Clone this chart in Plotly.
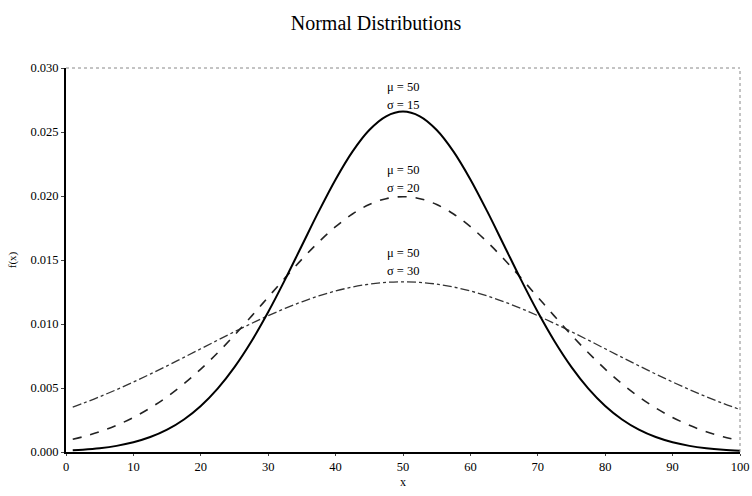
import plotly.graph_objects as go

x_vals = [1, 2.5, 5, 7.5, 10, 12.5, 15, 17.5, 20, 22.5, 25, 27.5, 30, 32.5, 35, 37.5, 40, 42.5, 45, 47.5,
          50, 52.5, 55, 57.5, 60, 62.5, 65, 67.5, 70, 72.5, 75, 77.5, 80, 82.5, 85, 87.5, 90, 92.5, 95, 97.5, 100]
f_sigma15 = [0.000128, 0.000177, 0.000295, 0.000480, 0.000760, 0.001169, 0.001748, 0.002543, 0.003599, 0.004954,
             0.006632, 0.008634, 0.010934, 0.013466, 0.016131, 0.018795, 0.021297, 0.023471, 0.025159, 0.026229,
             0.026596, 0.026229, 0.025159, 0.023471, 0.021297, 0.018795, 0.016131, 0.013466, 0.010934, 0.008634,
             0.006632, 0.004954, 0.003599, 0.002543, 0.001748, 0.001169, 0.000760, 0.000480, 0.000295, 0.000177,
             0.000103]
f_sigma20 = [0.000992, 0.001189, 0.001587, 0.002086, 0.002700, 0.003439, 0.004314, 0.005327, 0.006476, 0.007751,
             0.009132, 0.010594, 0.012099, 0.013602, 0.015057, 0.016408, 0.017603, 0.018593, 0.019333, 0.019792,
             0.019947, 0.019792, 0.019333, 0.018593, 0.017603, 0.016408, 0.015057, 0.013602, 0.012099, 0.010594,
             0.009132, 0.007751, 0.006476, 0.005327, 0.004314, 0.003439, 0.002700, 0.002086, 0.001587, 0.001189,
             0.000876]
f_sigma30 = [0.003503, 0.003797, 0.004317, 0.004875, 0.005467, 0.006088, 0.006733, 0.007395, 0.008066, 0.008737,
             0.009398, 0.010038, 0.010648, 0.011218, 0.011735, 0.012192, 0.012579, 0.012889, 0.013115, 0.013252,
             0.013298, 0.013252, 0.013115, 0.012889, 0.012579, 0.012192, 0.011735, 0.011218, 0.010648, 0.010038,
             0.009398, 0.008737, 0.008066, 0.007395, 0.006733, 0.006088, 0.005467, 0.004875, 0.004317, 0.003797,
             0.003316]
x_ticks = [0, 10, 20, 30, 40, 50, 60, 70, 80, 90, 100]
y_ticks = [0.000, 0.005, 0.010, 0.015, 0.020, 0.025, 0.030]
labels = [("μ\u00a0=\u00a050", "σ\u00a0=\u00a015", 0.02852, 0.02711),
          ("μ\u00a0=\u00a050", "σ\u00a0=\u00a020", 0.02203, 0.02062),
          ("μ\u00a0=\u00a050", "σ\u00a0=\u00a030", 0.01555, 0.01414)]

font = "Liberation Serif"
fig = go.Figure()
fig.add_trace(go.Scatter(x=x_vals, y=f_sigma30, mode="lines", line=dict(color="#333", width=1.3, dash="dashdot", shape="spline")))
fig.add_trace(go.Scatter(x=x_vals, y=f_sigma20, mode="lines", line=dict(color="#222", width=1.6, dash="dash", shape="spline")))
fig.add_trace(go.Scatter(x=x_vals, y=f_sigma15, mode="lines", line=dict(color="black", width=2, shape="spline")))

for mu_t, s_t, y1, y2 in labels:
    fig.add_annotation(x=50, y=y1, text=mu_t, showarrow=False, font=dict(family=font, size=12.5, color="black"))
    fig.add_annotation(x=50, y=y2, text=s_t, showarrow=False, font=dict(family=font, size=12.5, color="black"))

fig.add_shape(type="line", xref="paper", yref="paper", x0=0, x1=1, y0=1, y1=1,
              line=dict(color="#888", width=1, dash="dot"))
fig.add_shape(type="line", xref="paper", yref="paper", x0=1, x1=1, y0=0, y1=1,
              line=dict(color="#888", width=1, dash="dot"))

fig.update_layout(
    width=752, height=496,
    margin=dict(l=66, r=12, t=68, b=44),
    paper_bgcolor="white", plot_bgcolor="white",
    showlegend=False,
    title=dict(text="Normal Distributions", x=0.5, xanchor="center", y=0.954, yanchor="middle",
               font=dict(family=font, size=20, color="black")),
    font=dict(family=font, size=12, color="black"),
    xaxis=dict(range=[0, 100], tickvals=x_ticks, showgrid=False, zeroline=False, automargin=False,
               showline=True, linecolor="black", linewidth=2, ticks="outside", ticklen=2,
               tickfont=dict(size=12.5),
               title=dict(text="x", standoff=5, font=dict(family=font, size=12))),
    yaxis=dict(range=[0, 0.030], tickvals=y_ticks, tickformat=".3f", showgrid=False, zeroline=False,
               automargin=False, showline=True, linecolor="black", linewidth=2, ticks="outside", ticklen=3,
               tickfont=dict(size=12.5),
               title=dict(text="f(x)", standoff=12, font=dict(family=font, size=11))),
)

fig.write_html("out.html", config={"displayModeBar": False},
               post_script="document.body.style.margin='0';document.body.style.overflow='hidden';")
